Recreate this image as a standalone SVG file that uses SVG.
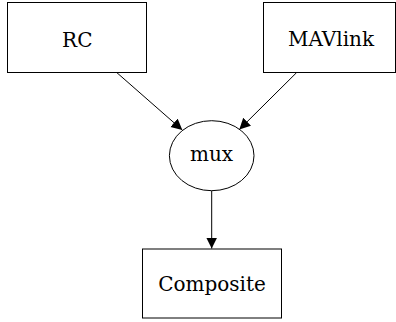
<svg xmlns="http://www.w3.org/2000/svg" width="396" height="322" viewBox="0 0 396 322">
<style>
.node rect, .node ellipse { fill: #ffffff; stroke: #000000; stroke-width: 1; }
.node text { font-family: "DejaVu Serif", "Liberation Serif", serif; font-size: 20px; fill: #000000; text-anchor: middle; }
.edge { stroke: #000000; stroke-width: 1; fill: none; marker-end: url(#arrow); }
</style>
<defs>
<marker id="arrow" markerUnits="userSpaceOnUse" markerWidth="12" markerHeight="12" refX="11" refY="5.5" orient="auto">
<path d="M0,0 L11,5.5 L0,11 z" fill="#000000"/>
</marker>
</defs>
<rect width="396" height="322" fill="#ffffff"/>
<g id="connectors">
<line class="edge" x1="116.7" y1="72.5" x2="182.3" y2="130"/>
<line class="edge" x1="296.7" y1="72.5" x2="239.3" y2="129.5"/>
<line class="edge" x1="211.7" y1="190.7" x2="211.7" y2="248.5"/>
</g>
<g id="RC" class="node">
<rect x="7.5" y="2.5" width="139" height="70"/>
<text x="77.3" y="46.7">RC</text>
</g>
<g id="MAVlink" class="node">
<rect x="263.5" y="2.5" width="132" height="70"/>
<text x="331" y="46.3">MAVlink</text>
</g>
<g id="mux" class="node">
<ellipse cx="211.7" cy="155.7" rx="42.3" ry="35"/>
<text x="211.5" y="160.7">mux</text>
</g>
<g id="Composite" class="node">
<rect x="142.5" y="249" width="139" height="69"/>
<text x="212" y="290.7">Composite</text>
</g>
</svg>
